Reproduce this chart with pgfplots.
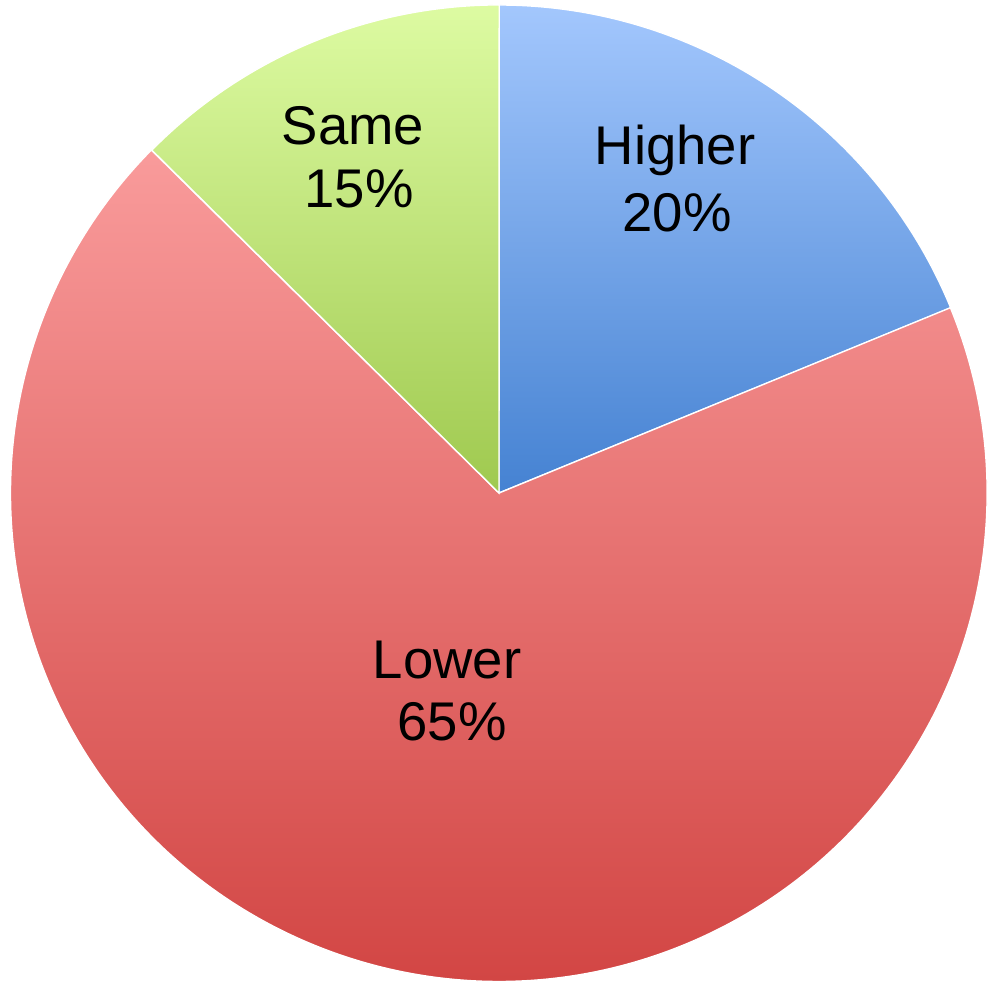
\documentclass[border=0pt]{standalone}
\usepackage{pgfplots}
\pgfplotsset{compat=1.18}
\usepackage{pgfplotstable}
\usepackage{fontspec}
\setmainfont{Liberation Sans}

\definecolor{hiTop}{HTML}{A3C7FD}
\definecolor{hiBot}{HTML}{4582D2}
\definecolor{loTop}{HTML}{F99B9B}
\definecolor{loBot}{HTML}{CF3F3D}
\definecolor{saTop}{HTML}{DDFBA2}
\definecolor{saBot}{HTML}{9FC94F}

% slice sizes as drawn (share of the full circle, in %)
\pgfplotstableread{
name    value
Higher  18.8
Lower   68.6
Same    12.6
}\piedata

\tikzset{
    lbl/.style={font=\fontsize{15.5}{18}\selectfont, anchor=base, inner sep=0pt},
    slice/.style={white, line width=0.4pt, overlay}, % arc control points would widen the bbox
}

\begin{document}
\begin{tikzpicture}
    % slice boundaries, clockwise from 12 o'clock
    \pgfplotstablegetelem{0}{value}\of\piedata
    \pgfmathsetmacro\aA{90-3.6*\pgfplotsretval}
    \pgfplotstablegetelem{1}{value}\of\piedata
    \pgfmathsetmacro\aB{\aA-3.6*\pgfplotsretval}
    \pgfplotstablegetelem{2}{value}\of\piedata
    \pgfmathsetmacro\aC{\aB-3.6*\pgfplotsretval}
    \def\R{488}
    \begin{axis}[
        x=0.01cm, y=0.01cm,
        xmin=-499, xmax=502, ymin=-507, ymax=493,
        hide axis, clip=false,
    ]
        \path (axis cs:-499,-507) rectangle (axis cs:502,493);
        \draw[slice, top color=hiTop, bottom color=hiBot]
            (axis cs:0,0) -- (axis cs:0,\R)
            arc[start angle=90, end angle=\aA, radius=4.88cm] -- cycle;
        \draw[slice, top color=loTop, bottom color=loBot]
            (axis cs:0,0) -- (axis cs:{\R*cos(\aA)},{\R*sin(\aA)})
            arc[start angle=\aA, end angle=\aB, radius=4.88cm] -- cycle;
        \draw[slice, top color=saTop, bottom color=saBot]
            (axis cs:0,0) -- (axis cs:{\R*cos(\aB)},{\R*sin(\aB)})
            arc[start angle=\aB, end angle=\aC, radius=4.88cm] -- cycle;

        \node[lbl] at (axis cs:176,328) {Higher};
        \node[lbl] at (axis cs:178,261) {20\%};
        \node[lbl] at (axis cs:-146,348) {Same};
        \node[lbl] at (axis cs:-140,285) {15\%};
        \node[lbl] at (axis cs:-52,-185) {Lower};
        \node[lbl] at (axis cs:-47,-247) {65\%};
    \end{axis}
\end{tikzpicture}
\end{document}
